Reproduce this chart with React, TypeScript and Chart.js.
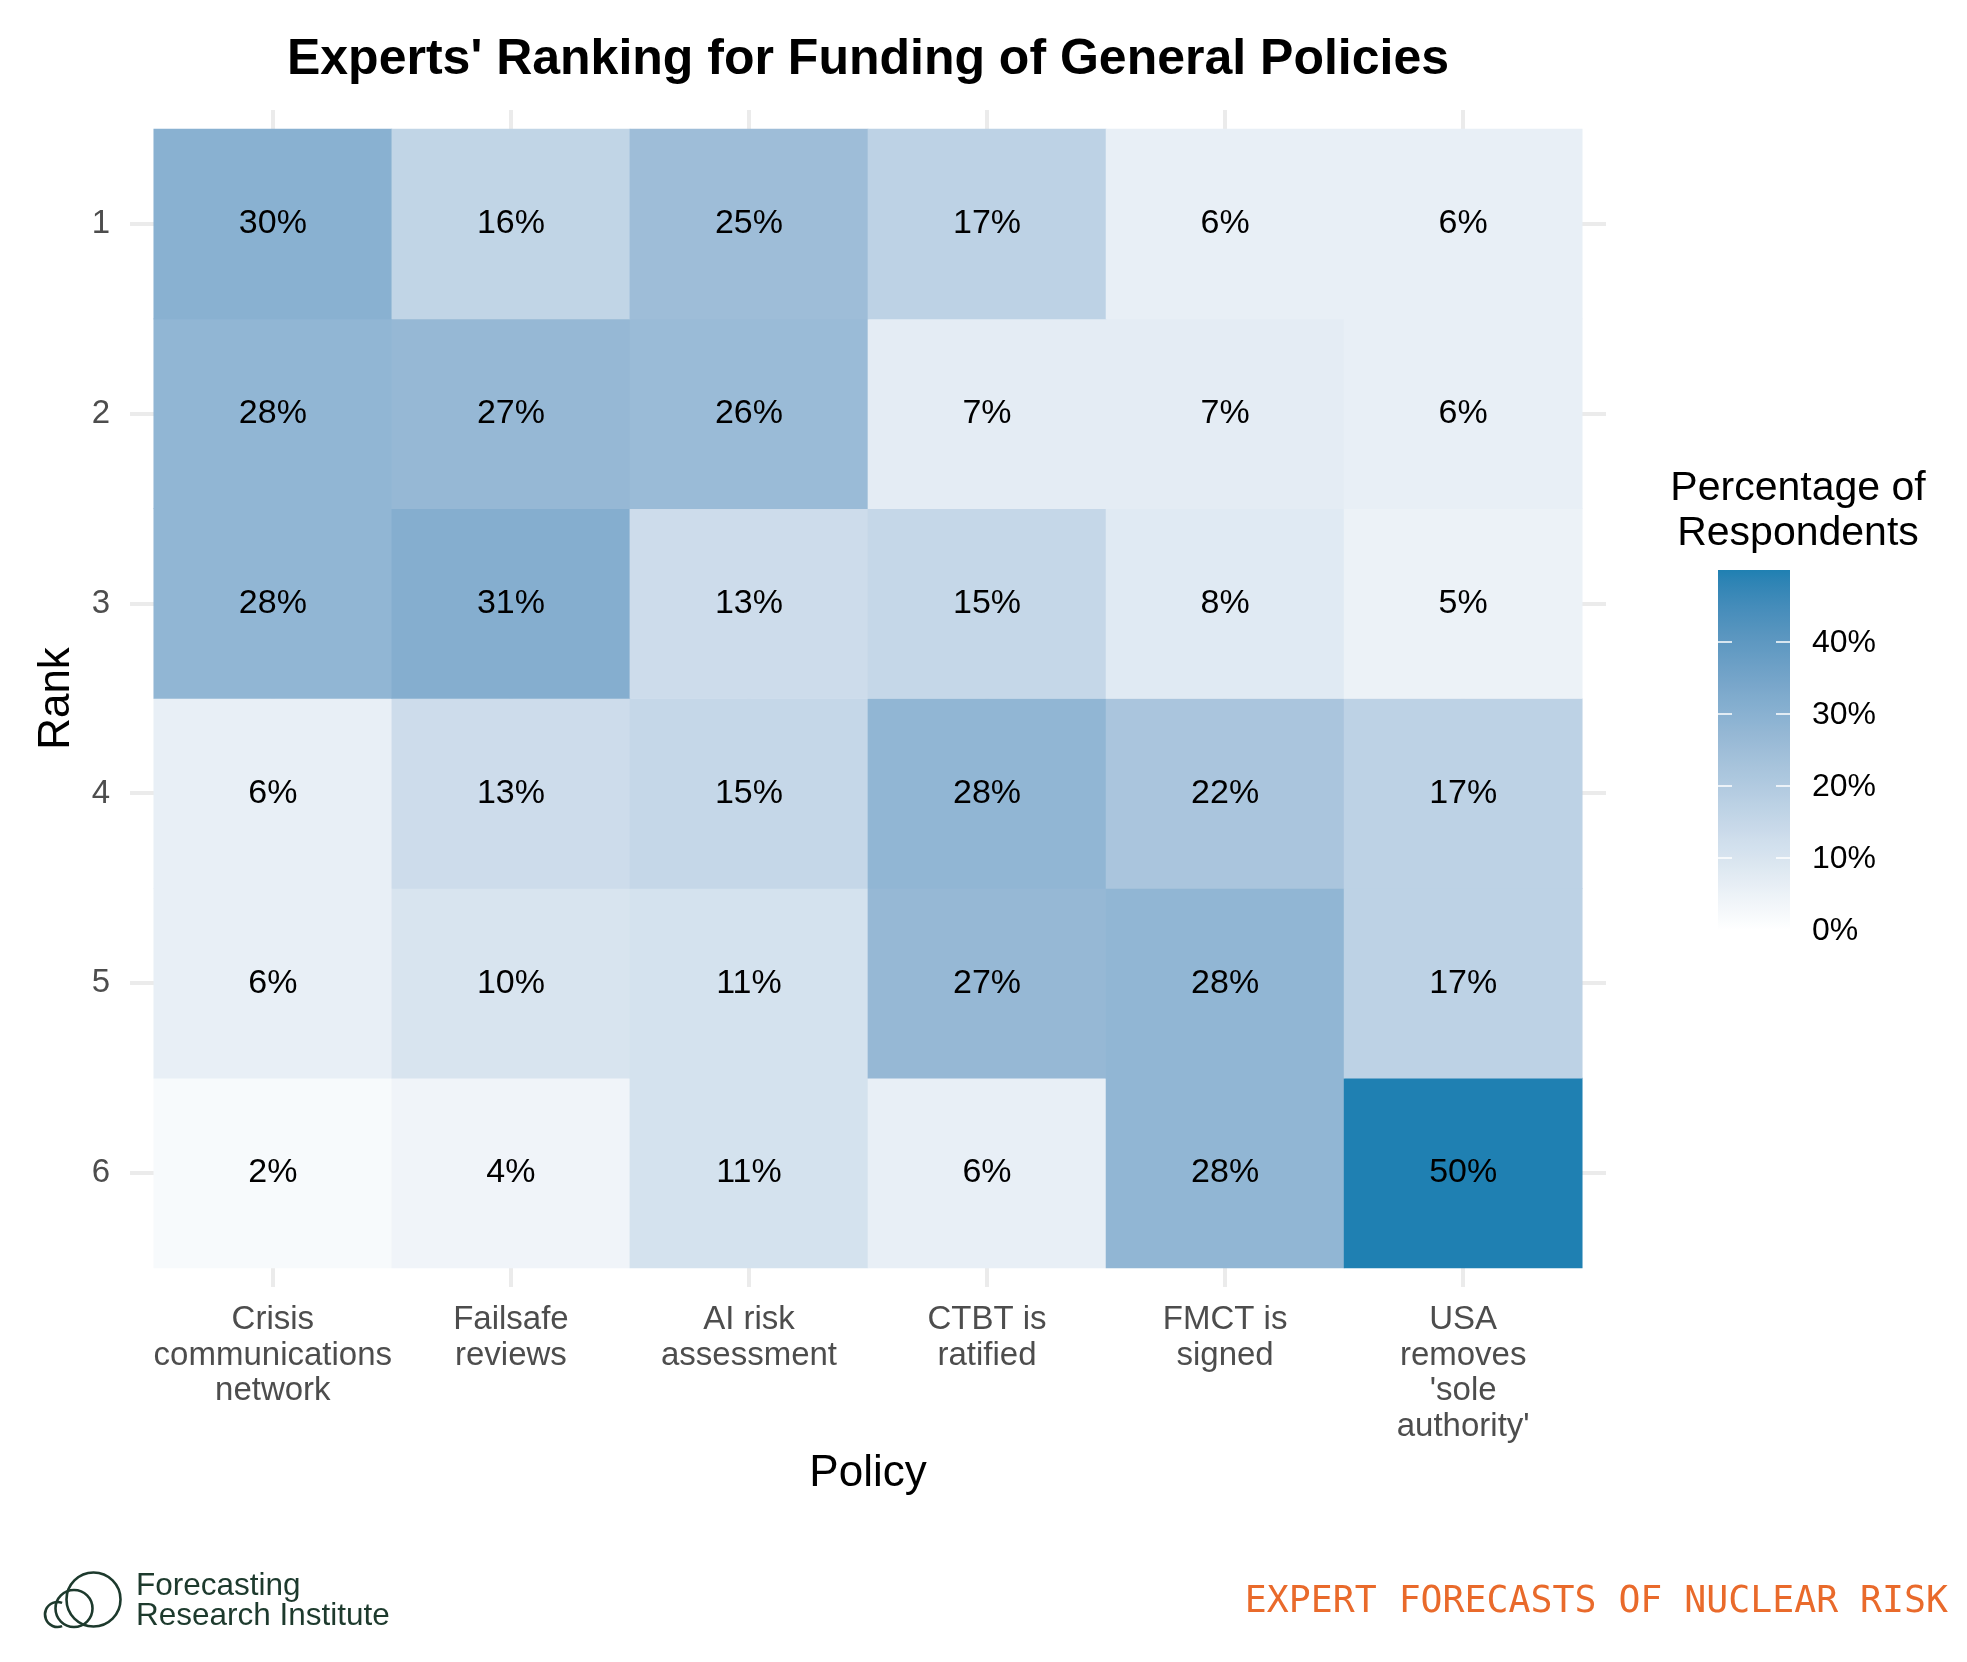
import React, { useEffect, useRef } from "react";
import { Chart, registerables } from "chart.js";

Chart.register(...registerables);

// ---------------- data ----------------
const policyLabels: string[][] = [
  ["Crisis", "communications", "network"],
  ["Failsafe", "reviews"],
  ["AI risk", "assessment"],
  ["CTBT is", "ratified"],
  ["FMCT is", "signed"],
  ["USA", "removes", "'sole", "authority'"],
];
const policyPositions = [1, 2, 3, 4, 5, 6];
const ranks = [1, 2, 3, 4, 5, 6];

// percentage of respondents, one array per rank, in policy order
const rank1 = [30, 16, 25, 17, 6, 6];
const rank2 = [28, 27, 26, 7, 7, 6];
const rank3 = [28, 31, 13, 15, 8, 5];
const rank4 = [6, 13, 15, 28, 22, 17];
const rank5 = [6, 10, 11, 27, 28, 17];
const rank6 = [2, 4, 11, 6, 28, 50];
const rankValues = [rank1, rank2, rank3, rank4, rank5, rank6];

const legendTicks = [0, 10, 20, 30, 40];
const legendLimits = [0, 50];

const TITLE = "Experts' Ranking for Funding of General Policies";
const X_TITLE = "Policy";
const Y_TITLE = "Rank";
const LEGEND_TITLE = ["Percentage of", "Respondents"];
const FOOTER_RIGHT = "EXPERT FORECASTS OF NUCLEAR RISK";
const FOOTER_LOGO = ["Forecasting", "Research Institute"];

// ---------------- colour scale (CIELAB interpolation, like ggplot) ----------------
const LOW = "#FFFFFF";
const HIGH = "#1F80B2";

function hexToRgb(h: string): number[] {
  const n = parseInt(h.slice(1), 16);
  return [(n >> 16) & 255, (n >> 8) & 255, n & 255];
}
const toLin = (c: number) => {
  c /= 255;
  return c <= 0.04045 ? c / 12.92 : Math.pow((c + 0.055) / 1.055, 2.4);
};
const fromLin = (c: number) => {
  const v = c <= 0.0031308 ? 12.92 * c : 1.055 * Math.pow(c, 1 / 2.4) - 0.055;
  return Math.round(Math.max(0, Math.min(1, v)) * 255);
};
const Xn = 0.95047, Yn = 1, Zn = 1.08883;
const fLab = (t: number) => (t > 216 / 24389 ? Math.cbrt(t) : ((24389 / 27) * t + 16) / 116);
const fInv = (t: number) => (t * t * t > 216 / 24389 ? t * t * t : (116 * t - 16) / (24389 / 27));
function rgbToLab(rgb: number[]): number[] {
  const R = toLin(rgb[0]), G = toLin(rgb[1]), B = toLin(rgb[2]);
  const X = 0.4124564 * R + 0.3575761 * G + 0.1804375 * B;
  const Y = 0.2126729 * R + 0.7151522 * G + 0.072175 * B;
  const Z = 0.0193339 * R + 0.119192 * G + 0.9503041 * B;
  const fx = fLab(X / Xn), fy = fLab(Y / Yn), fz = fLab(Z / Zn);
  return [116 * fy - 16, 500 * (fx - fy), 200 * (fy - fz)];
}
function labToRgb(lab: number[]): number[] {
  const fy = (lab[0] + 16) / 116;
  const fx = fy + lab[1] / 500;
  const fz = fy - lab[2] / 200;
  const X = Xn * fInv(fx), Y = Yn * fInv(fy), Z = Zn * fInv(fz);
  const R = 3.2404542 * X - 1.5371385 * Y - 0.4985314 * Z;
  const G = -0.969266 * X + 1.8760108 * Y + 0.041556 * Z;
  const B = 0.0556434 * X - 0.2040259 * Y + 1.0572252 * Z;
  return [fromLin(R), fromLin(G), fromLin(B)];
}
const labLow = rgbToLab(hexToRgb(LOW));
const labHigh = rgbToLab(hexToRgb(HIGH));
function colorFor(v: number): string {
  const t = Math.max(0, Math.min(1, (v - legendLimits[0]) / (legendLimits[1] - legendLimits[0])));
  const lab = [0, 1, 2].map((k) => labLow[k] + (labHigh[k] - labLow[k]) * t);
  const c = labToRgb(lab);
  return `rgb(${c[0]},${c[1]},${c[2]})`;
}

const SANS = "'Liberation Sans', Arial, Helvetica, sans-serif";

// ---------------- plugins ----------------
const cellLabelPlugin = {
  id: "cellLabels",
  afterDatasetsDraw(chart: any) {
    const ctx = chart.ctx;
    ctx.save();
    ctx.font = `34px ${SANS}`;
    ctx.fillStyle = "#000000";
    ctx.textAlign = "center";
    ctx.textBaseline = "middle";
    chart.data.datasets.forEach((_ds: any, di: number) => {
      const meta = chart.getDatasetMeta(di);
      meta.data.forEach((el: any, i: number) => {
        const p = el.getProps(["x", "y", "base"], true);
        ctx.fillText(`${rankValues[di][i]}%`, p.x, (p.y + p.base) / 2);
      });
    });
    ctx.restore();
  },
};

const colorbarPlugin = {
  id: "colorbar",
  afterDraw(chart: any) {
    const ctx = chart.ctx;
    const left = 1718, right = 1790, top = 570, bottom = 930;
    const vToY = (v: number) =>
      bottom - ((v - legendLimits[0]) / (legendLimits[1] - legendLimits[0])) * (bottom - top);
    ctx.save();
    // title
    ctx.font = `41px ${SANS}`;
    ctx.fillStyle = "#000000";
    ctx.textAlign = "center";
    ctx.textBaseline = "alphabetic";
    ctx.fillText(LEGEND_TITLE[0], 1798, 500);
    ctx.fillText(LEGEND_TITLE[1], 1798, 545);
    // gradient
    const grad = ctx.createLinearGradient(0, bottom, 0, top);
    const steps = 40;
    for (let s = 0; s <= steps; s++) {
      const v = legendLimits[0] + ((legendLimits[1] - legendLimits[0]) * s) / steps;
      grad.addColorStop(s / steps, colorFor(v));
    }
    ctx.fillStyle = grad;
    ctx.fillRect(left, top, right - left, bottom - top);
    // ticks + labels
    ctx.strokeStyle = "#ffffff";
    ctx.lineWidth = 1.5;
    ctx.font = `32px ${SANS}`;
    ctx.fillStyle = "#000000";
    ctx.textAlign = "left";
    ctx.textBaseline = "middle";
    legendTicks.forEach((v) => {
      const y = vToY(v);
      if (v > legendLimits[0]) {
        ctx.beginPath();
        ctx.moveTo(left, y);
        ctx.lineTo(left + 14, y);
        ctx.moveTo(right - 14, y);
        ctx.lineTo(right, y);
        ctx.stroke();
      }
      ctx.fillText(`${v}%`, 1812, y + 1);
    });
    ctx.restore();
  },
};

const footerPlugin = {
  id: "footer",
  afterDraw(chart: any) {
    const ctx = chart.ctx;
    ctx.save();
    const green = "#1d3a2d";
    ctx.strokeStyle = green;
    ctx.lineWidth = 2.6;
    // logo circles
    ctx.beginPath();
    ctx.arc(93.5, 1599.5, 27, 0, Math.PI * 2);
    ctx.stroke();
    ctx.beginPath();
    ctx.arc(74, 1608.5, 18.5, 0, Math.PI * 2);
    ctx.stroke();
    ctx.beginPath();
    ctx.arc(57.5, 1614.5, 12.5, Math.PI * 0.38, Math.PI * 1.62);
    ctx.stroke();
    ctx.font = `31.5px ${SANS}`;
    ctx.fillStyle = green;
    ctx.textAlign = "left";
    ctx.textBaseline = "alphabetic";
    ctx.fillText(FOOTER_LOGO[0], 136, 1595);
    ctx.fillText(FOOTER_LOGO[1], 136, 1625);
    // right tagline
    ctx.font = `36.5px 'DejaVu Sans Mono', 'Liberation Mono', monospace`;
    ctx.fillStyle = "#e96a2b";
    ctx.textAlign = "right";
    ctx.fillText(FOOTER_RIGHT, 1948, 1612);
    ctx.restore();
  },
};

export default function App() {
  const ref = useRef<HTMLCanvasElement | null>(null);
  useEffect(() => {
    document.body.style.margin = "0";
    const canvas = ref.current!;
    const chart = new Chart(canvas, {
      type: "bar",
      data: {
        datasets: ranks.map((r, ri) => ({
          label: `Rank ${r}`,
          data: policyPositions.map((p) => ({ x: p, y: [r - 0.5, r + 0.5] })),
          backgroundColor: rankValues[ri].map(colorFor),
          borderWidth: 0,
          grouped: false,
          barPercentage: 1,
          categoryPercentage: 1,
        })) as any,
      },
      options: {
        responsive: false,
        animation: false,
        devicePixelRatio: 1,
        layout: { padding: { left: 0, right: 361, top: 0, bottom: 145 } },
        plugins: {
          legend: { display: false },
          tooltip: { enabled: false },
          title: {
            display: true,
            text: TITLE,
            color: "#000000",
            fullSize: false,
            font: { family: SANS, size: 50, weight: "bold" },
            padding: { top: 30, bottom: 20 },
          },
        },
        scales: {
          x: {
            type: "linear",
            bounds: "data",
            offset: false,
            min: 0.4,
            max: 6.6,
            afterBuildTicks: (s: any) => {
              s.ticks = policyPositions.map((v) => ({ value: v }));
            },
            afterFit: (s: any) => {
              s.height = 230;
            },
            ticks: {
              autoSkip: false,
              maxRotation: 0,
              minRotation: 0,
              padding: 15,
              color: "#4d4d4d",
              font: { family: SANS, size: 33, lineHeight: 1.08 },
              callback: (v: any) => policyLabels[Number(v) - 1] ?? "",
            },
            grid: { color: "#ebebeb", lineWidth: 4, drawTicks: false, offset: false },
            border: { display: false },
            title: {
              display: true,
              text: X_TITLE,
              color: "#000000",
              font: { family: SANS, size: 44 },
              padding: { top: 0, bottom: 17 },
            },
          },
          y: {
            type: "linear",
            bounds: "data",
            reverse: true,
            min: 0.4,
            max: 6.6,
            afterBuildTicks: (s: any) => {
              s.ticks = ranks.map((v) => ({ value: v }));
            },
            afterFit: (s: any) => {
              s.width = 130;
            },
            ticks: {
              padding: 20,
              color: "#4d4d4d",
              font: { family: SANS, size: 33 },
              callback: (v: any) => String(v),
            },
            grid: { color: "#ebebeb", lineWidth: 4, drawTicks: false },
            border: { display: false },
            title: {
              display: true,
              text: Y_TITLE,
              color: "#000000",
              font: { family: SANS, size: 44 },
              padding: { top: 30, bottom: 0 },
            },
          },
        },
      } as any,
      plugins: [cellLabelPlugin, colorbarPlugin, footerPlugin],
    });
    return () => chart.destroy();
  }, []);
  return (
    <canvas
      ref={ref}
      width={1967}
      height={1662}
      style={{ display: "block", width: "1967px", height: "1662px" }}
    />
  );
}
